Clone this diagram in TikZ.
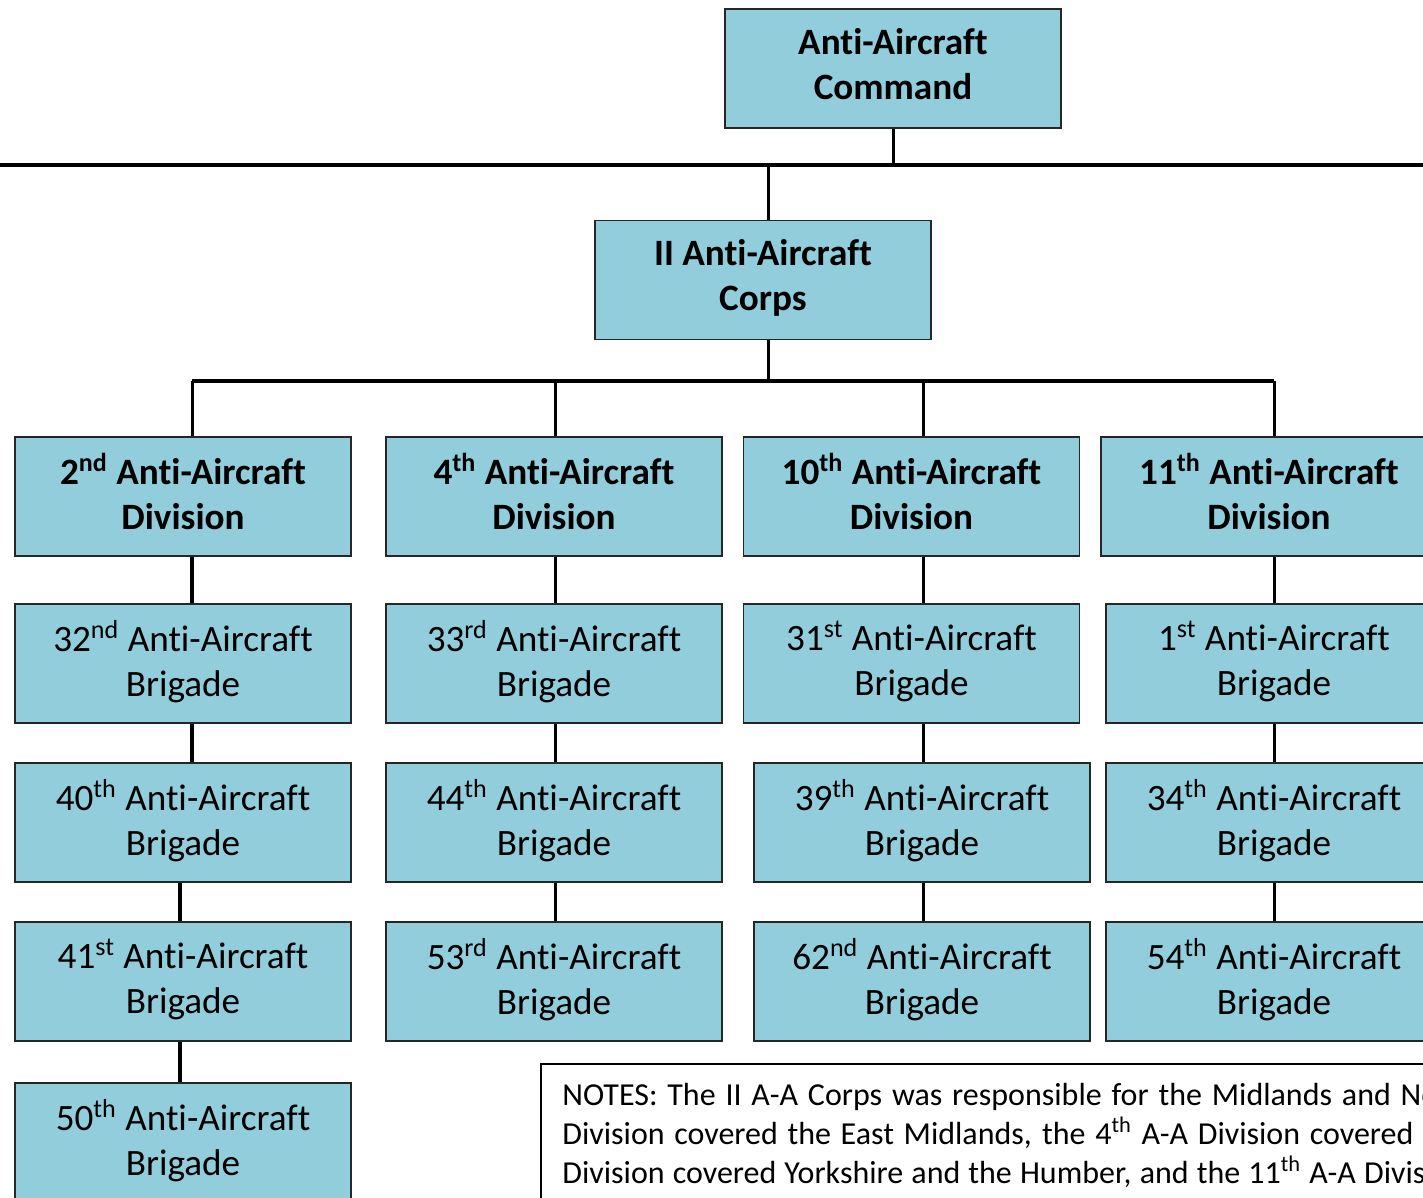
\documentclass[tikz,border=0pt]{standalone}
\usepackage{fontspec}
\setmainfont{Carlito}[Ligatures=NoCommon]
\usetikzlibrary{positioning}
\usetikzlibrary{calc}
\definecolor{aaBlue}{HTML}{92CDDC}
\tikzset{
  unit/.style={draw=black!85, line width=0.9pt, fill=aaBlue, minimum width=168pt,
    minimum height=59.5pt, inner sep=0pt, text depth=5pt, align=center,
    font=\fontsize{18.6}{22.5}\selectfont},
  hq/.style={unit, font=\fontsize{18.6}{22.5}\selectfont\bfseries},
  link/.style={line width=1.5pt},
  heavylink/.style={line width=2.2pt},
  bus/.style={line width=2.3pt},
  notes/.style={align=left, inner sep=0pt, font=\fontsize{16}{19.5}\selectfont}
}
\newcommand{\noteline}[2]{\makebox[#1][s]{#2}}
\begin{document}
\begin{tikzpicture}[x=0.5pt, y=-0.5pt]
  \useasboundingbox (0,0) rectangle (1423,1198);
  \coordinate (topL) at (-10,165);
  \coordinate (topR) at (1440,165);
  \coordinate (divY) at (0,381);

  \node[hq] (cmd) at (893,68.5) {Anti-Aircraft\\Command};
  \node[hq] (corps) at (763,280) {II Anti-Aircraft\\Corps};

  \node[hq] (d2) at (183,496.5) {2\textsuperscript{nd} Anti-Aircraft\\Division};
  \node[hq] (d4) at (554,496.5) {4\textsuperscript{th} Anti-Aircraft\\Division};
  \node[hq] (d10) at (911.5,496.5) {10\textsuperscript{th} Anti-Aircraft\\Division};
  \node[hq] (d11) at (1269,496.5) {11\textsuperscript{th} Anti-Aircraft\\Division};

  \node[unit] (b32) at (183,663.5) {32\textsuperscript{nd} Anti-Aircraft\\Brigade};
  \node[unit] (b40) at (183,822.5) {40\textsuperscript{th} Anti-Aircraft\\Brigade};
  \node[unit] (b41) at (183,981.5) {41\textsuperscript{st} Anti-Aircraft\\Brigade};
  \node[unit] (b50) at (183,1142.5) {50\textsuperscript{th} Anti-Aircraft\\Brigade};

  \node[unit] (b33) at (554,663.5) {33\textsuperscript{rd} Anti-Aircraft\\Brigade};
  \node[unit] (b44) at (554,822.5) {44\textsuperscript{th} Anti-Aircraft\\Brigade};
  \node[unit] (b53) at (554,981.5) {53\textsuperscript{rd} Anti-Aircraft\\Brigade};

  \node[unit] (b31) at (911.5,663.5) {31\textsuperscript{st} Anti-Aircraft\\Brigade};
  \node[unit] (b39) at (922,822.5) {39\textsuperscript{th} Anti-Aircraft\\Brigade};
  \node[unit] (b62) at (922,981.5) {62\textsuperscript{nd} Anti-Aircraft\\Brigade};

  \node[unit] (b1) at (1274,663.5) {1\textsuperscript{st} Anti-Aircraft\\Brigade};
  \node[unit] (b34) at (1274,822.5) {34\textsuperscript{th} Anti-Aircraft\\Brigade};
  \node[unit] (b54) at (1274,981.5) {54\textsuperscript{th} Anti-Aircraft\\Brigade};

  \draw[line width=0.8pt] (541,1064) rectangle (1500,1260);
  \node[notes, anchor=north west] (notes) at (562,1083)
    {\noteline{438pt}{NOTES: The II A-A Corps was responsible for the Midlands and No}\\
     \noteline{425.5pt}{Division covered the East Midlands, the 4\textsuperscript{th} A-A Division covered}\\
     \noteline{431.5pt}{Division covered Yorkshire and the Humber, and the 11\textsuperscript{th} A-A Divis}};

  \draw[bus] (topL) -- (topR);
  \draw[link] (cmd.south) -- (cmd.south |- topL);
  \draw[link] ([xshift=2.5pt]corps.north) -- ([xshift=2.5pt]corps.north |- topL);
  \draw[link] ([xshift=2.5pt]corps.south) -- ([xshift=2.5pt]corps.south |- divY);
  \draw[bus, line width=1.7pt] ([xshift=4.5pt]d2.north |- divY) -- ([xshift=2.5pt]d11.north |- divY);
  \draw[link] ([xshift=4.5pt]d2.north) -- ([xshift=4.5pt]d2.north |- divY);
  \draw[link] ([xshift=0.5pt]d4.north) -- ([xshift=0.5pt]d4.north |- divY);
  \draw[link] ([xshift=5.75pt]d10.north) -- ([xshift=5.75pt]d10.north |- divY);
  \draw[link] ([xshift=2.5pt]d11.north) -- ([xshift=2.5pt]d11.north |- divY);

  \draw[heavylink] ([xshift=4.5pt]d2.south) -- ([xshift=4.5pt]b32.north);
  \draw[heavylink] ([xshift=4.5pt]b32.south) -- ([xshift=4.5pt]b40.north);
  \draw[heavylink] ([xshift=-1.5pt]b40.south) -- ([xshift=-1.5pt]b41.north);
  \draw[heavylink] ([xshift=-1.5pt]b41.south) -- ([xshift=-1.5pt]b50.north);

  \draw[link] ([xshift=0.5pt]d4.south) -- ([xshift=0.5pt]b33.north);
  \draw[link] ([xshift=0.5pt]b33.south) -- ([xshift=0.5pt]b44.north);
  \draw[link] ([xshift=0.5pt]b44.south) -- ([xshift=0.5pt]b53.north);

  \draw[link] ([xshift=5.75pt]d10.south) -- ([xshift=5.75pt]b31.north);
  \draw[link] ([xshift=5.75pt]b31.south) -- ([xshift=5.75pt]b31.south |- b39.north);
  \draw[link] ([xshift=0.5pt]b39.south) -- ([xshift=0.5pt]b62.north);

  \draw[link] ([xshift=2.5pt]d11.south) -- (b1.north);
  \draw[link] (b1.south) -- (b34.north);
  \draw[link] (b34.south) -- (b54.north);
\end{tikzpicture}
\end{document}
